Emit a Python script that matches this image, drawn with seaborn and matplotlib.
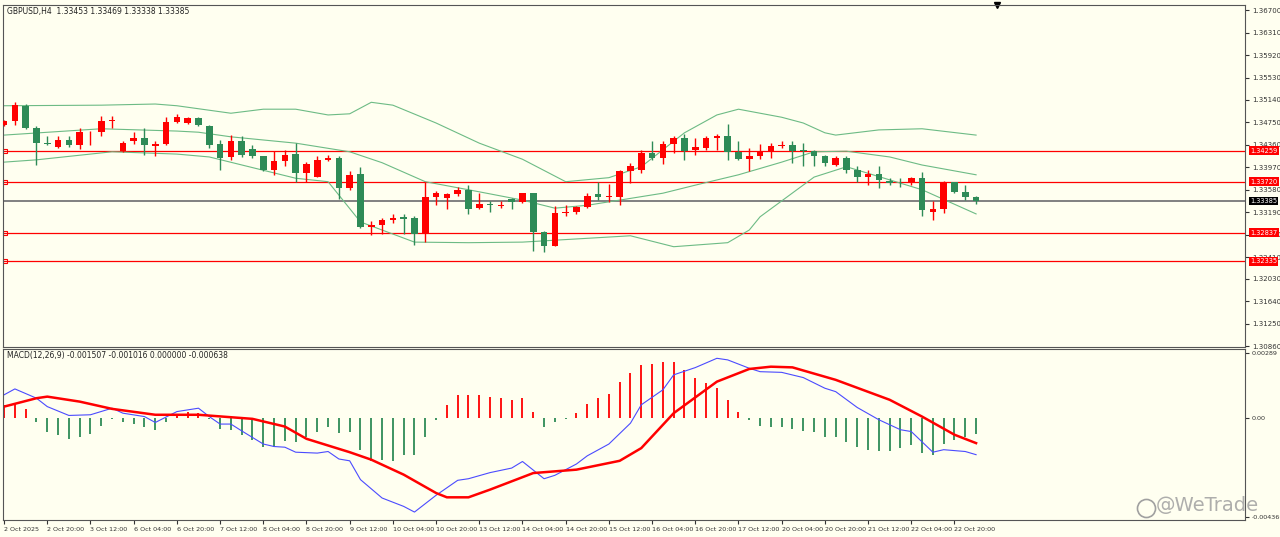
import matplotlib
matplotlib.use("Agg")
import matplotlib.pyplot as plt
import numpy as np
import pandas as pd
import seaborn as sns

BG = "#fffff0"
UP = "#ff0000"
DOWN = "#2e8b57"
BAND = "#6dbb85"

# OHLC per 4H bar (red = up, green = down)
opens = [1.3470, 1.3477, 1.3504, 1.3466, 1.3439, 1.3432, 1.3445, 1.3436, 1.3458, 1.3458,
         1.3477, 1.3426, 1.3442, 1.3448, 1.3434, 1.3438, 1.3475, 1.3474, 1.3482, 1.3469,
         1.3437, 1.3415, 1.3443, 1.3429, 1.3416, 1.3393, 1.3408, 1.3420, 1.3387, 1.3381,
         1.3410, 1.3414, 1.3361, 1.3386, 1.3294, 1.3297, 1.3305, 1.3310, 1.3309, 1.3281,
         1.3345, 1.3343, 1.3350, 1.3357, 1.3326, 1.3333, 1.3330, 1.3342, 1.3337, 1.3352,
         1.3284, 1.3261, 1.3317, 1.3320, 1.3328, 1.3350, 1.3346, 1.3346, 1.3391, 1.3393,
         1.3422, 1.3414, 1.3438, 1.3448, 1.3427, 1.3430, 1.3448, 1.3452, 1.3423, 1.3412,
         1.3417, 1.3425, 1.3434, 1.3436, 1.3427, 1.3425, 1.3416, 1.3401, 1.3414, 1.3392,
         1.3381, 1.3386, 1.3374, 1.3372, 1.3371, 1.3379, 1.3320, 1.3324, 1.3371, 1.3354,
         1.3346]
closes = [1.3477, 1.3506, 1.3466, 1.3439, 1.3437, 1.3445, 1.3435, 1.3458, 1.3459, 1.3478,
          1.3480, 1.3440, 1.3448, 1.3435, 1.3438, 1.3475, 1.3485, 1.3482, 1.3470, 1.3436,
          1.3414, 1.3443, 1.3418, 1.3416, 1.3393, 1.3408, 1.3419, 1.3387, 1.3403, 1.3410,
          1.3413, 1.3361, 1.3384, 1.3293, 1.3297, 1.3305, 1.3309, 1.3308, 1.3281, 1.3345,
          1.3352, 1.3351, 1.3357, 1.3325, 1.3334, 1.3331, 1.3332, 1.3337, 1.3352, 1.3284,
          1.3261, 1.3317, 1.3319, 1.3328, 1.3348, 1.3346, 1.3348, 1.3390, 1.3400, 1.3422,
          1.3414, 1.3438, 1.3448, 1.3426, 1.3432, 1.3448, 1.3452, 1.3423, 1.3412, 1.3417,
          1.3425, 1.3434, 1.3436, 1.3426, 1.3426, 1.3416, 1.3404, 1.3414, 1.3393, 1.3381,
          1.3386, 1.3375, 1.3370, 1.3371, 1.3379, 1.3322, 1.3324, 1.3371, 1.3354, 1.3346,
          1.33385]
highs = [1.3480, 1.3511, 1.3507, 1.3468, 1.3452, 1.3452, 1.3451, 1.3466, 1.3460, 1.3487,
         1.3487, 1.3443, 1.3458, 1.3465, 1.3442, 1.3484, 1.3489, 1.3485, 1.3484, 1.3471,
         1.3445, 1.3454, 1.3452, 1.3436, 1.3416, 1.3425, 1.3427, 1.3440, 1.3407, 1.3416,
         1.3418, 1.3417, 1.3390, 1.3397, 1.3304, 1.3309, 1.3315, 1.3315, 1.3312, 1.3371,
         1.3356, 1.3353, 1.3362, 1.3367, 1.3352, 1.3339, 1.3338, 1.3343, 1.3353, 1.3352,
         1.3286, 1.3329, 1.3332, 1.3330, 1.3352, 1.3371, 1.3368, 1.3393, 1.3404, 1.3427,
         1.3442, 1.3442, 1.3451, 1.3455, 1.3448, 1.3451, 1.3455, 1.3472, 1.3442, 1.3430,
         1.3437, 1.3439, 1.3443, 1.3443, 1.3439, 1.3427, 1.3419, 1.3416, 1.3416, 1.3399,
         1.3393, 1.3399, 1.3378, 1.3378, 1.3381, 1.3389, 1.3339, 1.3374, 1.3371, 1.3367,
         1.3348]
lows = [1.3468, 1.3470, 1.3463, 1.3401, 1.3436, 1.3430, 1.3433, 1.3429, 1.3436, 1.3451,
        1.3465, 1.3423, 1.3437, 1.3418, 1.3417, 1.3436, 1.3474, 1.3472, 1.3468, 1.3430,
        1.3393, 1.3410, 1.3415, 1.3413, 1.3391, 1.3384, 1.3400, 1.3372, 1.3371, 1.3380,
        1.3408, 1.3342, 1.3358, 1.3291, 1.3280, 1.3281, 1.3300, 1.3281, 1.3262, 1.3267,
        1.3332, 1.3324, 1.3348, 1.3316, 1.3324, 1.3319, 1.3327, 1.3325, 1.3335, 1.3252,
        1.3250, 1.3261, 1.3313, 1.3315, 1.3326, 1.3341, 1.3337, 1.3332, 1.3370, 1.3387,
        1.3410, 1.3403, 1.3422, 1.3410, 1.3419, 1.3427, 1.3427, 1.3410, 1.3410, 1.3390,
        1.3412, 1.3414, 1.3430, 1.3405, 1.3399, 1.3400, 1.3399, 1.3400, 1.3387, 1.3372,
        1.3366, 1.3361, 1.3366, 1.3362, 1.3367, 1.3313, 1.3306, 1.3317, 1.3352, 1.3341,
        1.3334]

# Bollinger bands, read at sampled bar positions
upper_x = [0, 9, 14, 16, 21, 24, 27, 30, 32, 34, 36, 40, 44, 48, 52, 56, 59, 63, 66, 68, 72, 74, 76, 77, 81, 85, 90]
upper_y = [1.3504, 1.3505, 1.3507, 1.3504, 1.3491, 1.3498, 1.3498, 1.3488, 1.3490, 1.3510, 1.3505, 1.3474,
           1.3439, 1.3411, 1.3372, 1.3379, 1.3398, 1.3457, 1.3488, 1.3498, 1.3484, 1.3474, 1.3457, 1.3453,
           1.3462, 1.3464, 1.3453]
mid_x = [0, 9, 16, 18, 21, 27, 32, 35, 39, 43, 48, 51, 54, 57, 61, 64, 68, 72, 75, 78, 82, 85, 90]
mid_y = [1.3453, 1.3464, 1.3460, 1.3458, 1.3450, 1.3439, 1.3424, 1.3405, 1.3372, 1.3358, 1.3340, 1.3326,
         1.3331, 1.3340, 1.3352, 1.3366, 1.3384, 1.3406, 1.3424, 1.3425, 1.3415, 1.3401, 1.3384]
lower_x = [0, 3, 10, 16, 19, 27, 30, 33, 38, 43, 48, 58, 62, 67, 69, 70, 75, 78, 85, 90]
lower_y = [1.3406, 1.3410, 1.3424, 1.3420, 1.3415, 1.3378, 1.3372, 1.3302, 1.3267, 1.3266, 1.3267, 1.3278,
           1.3259, 1.3266, 1.3288, 1.3311, 1.3380, 1.3398, 1.3358, 1.3316]

levels = [1.34259, 1.33720, 1.32837, 1.32335]
last_price = 1.33385
price_ticks = [1.36700, 1.36310, 1.35920, 1.35530, 1.35140, 1.34750, 1.34360, 1.33970,
               1.33580, 1.33190, 1.32800, 1.32410, 1.32030, 1.31640, 1.31250, 1.30860]

# MACD panel
hist = [0.00059, 0.00066, 0.00040, -0.00019, -0.00062, -0.00076, -0.00092, -0.00081, -0.00069, -0.00034,
        -0.00004, -0.00019, -0.00026, -0.00041, -0.00051, -0.00019, 0.00018, 0.00026, 0.00025, -0.00004,
        -0.00047, -0.00051, -0.00076, -0.00098, -0.00128, -0.00125, -0.00100, -0.00106, -0.00085, -0.00062,
        -0.00037, -0.00066, -0.00059, -0.00139, -0.00191, -0.00183, -0.00188, -0.00164, -0.00164, -0.00084,
        -0.00007, 0.00056, 0.00100, 0.00100, 0.00100, 0.00095, 0.00088, 0.00081, 0.00088, 0.00029,
        -0.00037, -0.00015, -0.00003, 0.00025, 0.00063, 0.00088, 0.00106, 0.00161, 0.00198, 0.00235,
        0.00238, 0.00246, 0.00246, 0.00213, 0.00179, 0.00154, 0.00132, 0.00078, 0.00026, -0.00010,
        -0.00034, -0.00037, -0.00041, -0.00047, -0.00056, -0.00063, -0.00081, -0.00085, -0.00106, -0.00129,
        -0.00139, -0.00144, -0.00144, -0.00132, -0.00117, -0.00154, -0.00161, -0.00114, -0.00095, -0.00081,
        -0.00070]
macd_x = [0, 1, 3, 4, 6, 8, 10, 11, 13, 14, 16, 18, 19, 20, 21, 22, 24, 25, 26, 27, 29, 30, 31, 32, 33,
          35, 37, 38, 40, 42, 43, 45, 47, 48, 50, 51, 53, 54, 56, 58, 59, 61, 62, 64, 66, 67, 69, 70, 72,
          74, 76, 77, 79, 81, 83, 84, 86, 87, 89, 90]
macd_y = [0.00103, 0.00129, 0.00088, 0.00051, 0.00012, 0.00015, 0.00044, 0.00022, 0.00007, -0.00019,
          0.00029, 0.00044, 0.00007, -0.00026, -0.00026, -0.00056, -0.00114, -0.00125, -0.00128, -0.00150,
          -0.00154, -0.00147, -0.00180, -0.00188, -0.00271, -0.00352, -0.00389, -0.00414, -0.00340, -0.00274,
          -0.00267, -0.00240, -0.00220, -0.00191, -0.00267, -0.00252, -0.00202, -0.00166, -0.00114, -0.00022,
          0.00059, 0.00125, 0.00191, 0.00223, 0.00264, 0.00257, 0.00220, 0.00205, 0.00202, 0.00179,
          0.00132, 0.00117, 0.00047, -0.00007, -0.00051, -0.00059, -0.00150, -0.00139, -0.00147, -0.00161]
signal_x = [0, 3, 4, 7, 10, 14, 18, 23, 26, 28, 32, 34, 37, 40, 41, 43, 45, 49, 53, 57, 59, 62, 66, 69,
            71, 73, 77, 82, 85, 88, 90]
signal_y = [0.00051, 0.00088, 0.00095, 0.00073, 0.00041, 0.00015, 0.00015, -0.00003, -0.00037, -0.00091,
            -0.00150, -0.00183, -0.00249, -0.00330, -0.00349, -0.00349, -0.00315, -0.00242, -0.00227, -0.00188,
            -0.00132, 0.00022, 0.00161, 0.00217, 0.00227, 0.00224, 0.00169, 0.00081, 0.00007, -0.00073,
            -0.00110]

date_labels = ["2 Oct 2025", "2 Oct 20:00", "3 Oct 12:00", "6 Oct 04:00", "6 Oct 20:00", "7 Oct 12:00",
               "8 Oct 04:00", "8 Oct 20:00", "9 Oct 12:00", "10 Oct 04:00", "10 Oct 20:00", "13 Oct 12:00",
               "14 Oct 04:00", "14 Oct 20:00", "15 Oct 12:00", "16 Oct 04:00", "16 Oct 20:00", "17 Oct 12:00",
               "20 Oct 04:00", "20 Oct 20:00", "21 Oct 12:00", "22 Oct 04:00", "22 Oct 20:00"]

W, H = 1280, 537
fig = plt.figure(figsize=(W / 100, H / 100), dpi=100, facecolor=BG)
ax = fig.add_axes([3 / W, 1 - 347 / H, 1242 / W, 342 / H], facecolor=BG)
axm = fig.add_axes([3 / W, 1 - 520 / H, 1242 / W, 171 / H], facecolor=BG, sharex=ax)

candles = pd.DataFrame({"open": opens, "high": highs, "low": lows, "close": closes})
candles["bar"] = np.arange(len(candles))
candles["color"] = np.where(candles["close"] >= candles["open"], UP, DOWN)

ax.vlines(candles["bar"], candles["low"], candles["high"], colors=candles["color"], linewidth=1, zorder=3)
body_bottom = candles[["open", "close"]].min(axis=1)
body_height = (candles["close"] - candles["open"]).abs().clip(lower=0.00005)
ax.bar(candles["bar"], body_height, bottom=body_bottom, width=0.6, color=candles["color"], zorder=4)

for bx, by in [(upper_x, upper_y), (mid_x, mid_y), (lower_x, lower_y)]:
    sns.lineplot(x=bx, y=by, ax=ax, color=BAND, linewidth=0.8, zorder=2)

tag_font = dict(fontsize=4.8, fontfamily="Liberation Sans Narrow")
for lv in levels:
    ax.axhline(lv, color=UP, linewidth=0.9, zorder=1)
    ax.plot([0.1], [lv], marker="s", markersize=3, mfc="none", mec=UP, mew=0.8, clip_on=False)
    ax.text(1.004, lv, f"{lv:.5f}", transform=ax.get_yaxis_transform(), color="white",
            va="center", ha="left", bbox=dict(boxstyle="square,pad=0.2", fc=UP, ec="none"), zorder=5,
            **tag_font)
ax.axhline(last_price, color="#808080", linewidth=1.4, zorder=1)
ax.text(1.004, last_price, f"{last_price:.5f}", transform=ax.get_yaxis_transform(), color="white",
        va="center", ha="left", bbox=dict(boxstyle="square,pad=0.2", fc="black", ec="none"), zorder=5,
        **tag_font)

ax.set_ylim(1.30847, 1.36791)
ax.set_xlim(-0.1, 114.9)
ax.yaxis.tick_right()
ax.set_yticks(price_ticks)
ax.set_yticklabels([f"{t:.5f}" for t in price_ticks])
ax.tick_params(axis="y", labelsize=5, length=3, colors="#333333", pad=2)
ax.tick_params(axis="x", bottom=False, labelbottom=False)
ax.text(0.003, 0.995, "GBPUSD,H4  1.33453 1.33469 1.33338 1.33385", transform=ax.transAxes,
        fontsize=5.5, va="top", ha="left", color="#222222")
ax.plot([0.8], [1.0], marker="v", color="black", markersize=4, transform=ax.transAxes, clip_on=False)

hist_colors = [UP if v > 0 else DOWN for v in hist]
axm.vlines(np.arange(len(hist)), 0, hist, colors=hist_colors, linewidth=1.3)
sns.lineplot(x=macd_x, y=macd_y, ax=axm, color="#4b4bff", linewidth=0.8)
sns.lineplot(x=signal_x, y=signal_y, ax=axm, color=UP, linewidth=1.8)
axm.set_ylim(-0.00449, 0.00305)
axm.yaxis.tick_right()
axm.set_yticks([0.00289, 0.0, -0.004366])
axm.set_yticklabels(["0.00289", "0.00", "-0.004366"])
axm.tick_params(axis="y", labelsize=4.6, length=3, colors="#333333", pad=2)
axm.set_xticks(np.arange(0, 4 * len(date_labels), 4))
axm.set_xticklabels(date_labels, ha="left")
axm.tick_params(axis="x", labelsize=4.6, length=3, colors="#333333", pad=2)
axm.text(0.003, 0.99, "MACD(12,26,9) -0.001507 -0.001016 0.000000 -0.000638", transform=axm.transAxes,
         fontsize=5.5, va="top", ha="left", color="#222222")
axm.plot([0.92], [0.07], marker="o", markersize=13, mfc="none", mec="#a0a0a0", mew=1.2,
         transform=axm.transAxes, clip_on=False)
axm.text(0.928, 0.03, "@WeTrade", transform=axm.transAxes, fontsize=14, color="#a0a0a0",
         alpha=0.85, ha="left", va="bottom")

for a in (ax, axm):
    for s in a.spines.values():
        s.set_color("#555555")
        s.set_linewidth(0.8)
    a.set_xlabel("")
    a.set_ylabel("")

fig.savefig("out.png", dpi=100, facecolor=BG)
